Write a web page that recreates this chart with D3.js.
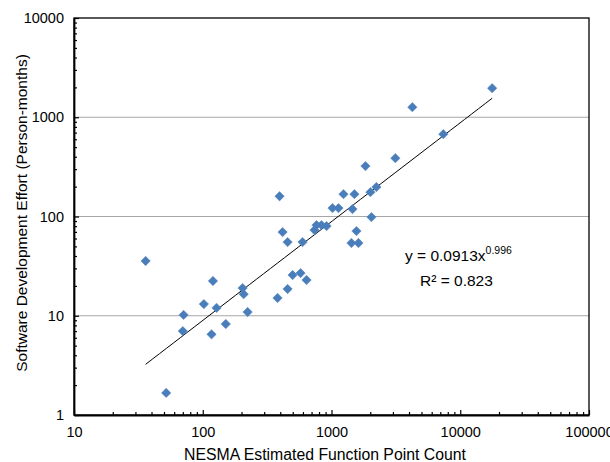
<!DOCTYPE html>
<html>
<head>
<meta charset="utf-8">
<script src="https://cdn.jsdelivr.net/npm/d3@7"></script>
<style>
  body { margin: 0; background: #fff; }
  svg text { font-family: "Liberation Sans", Arial, sans-serif; }
</style>
</head>
<body>
<div id="chart"></div>
<script>
// function point counts (x) and effort in person-months (y)
var fpCount = [36, 52, 71, 70, 102, 120, 128, 117, 151, 204, 208, 223,
    381, 456, 499, 575, 640, 395, 417, 456, 596, 765, 836, 915, 738,
    1018, 1133, 1239, 1507, 1455, 1563, 1429, 1619, 2042, 2006, 2233,
    1835, 3133, 4246, 7386, 17700];
var effort = [35.6, 1.67, 10.2, 7.0, 13.1, 22.4, 12.0, 6.5, 8.25, 19.0, 16.5, 10.9,
    15.1, 18.6, 25.7, 26.9, 22.9, 160, 69.6, 55.2, 55.2, 81.9, 81.9, 80, 73,
    121.5, 121.5, 168, 168, 118.7, 71.3, 54, 54, 98.6, 176, 198,
    322, 387, 1264, 676, 1963];

var xTicks = [10, 100, 1000, 10000, 100000];
var yTicks = [1, 10, 100, 1000, 10000];

// power trend line y = a * x^b
var trendA = 0.0913;
var trendB = 0.996;
var eqText = "y = 0.0913x";
var eqPow = "0.996";
var r2Text = "R² = 0.823";

var width = 610, height = 462;
var plotLeft = 74, plotRight = 589, plotTop = 18, plotBottom = 415;

var svg = d3.select("#chart").append("svg")
    .attr("width", width)
    .attr("height", height);

var x = d3.scaleLog().domain([10, 100000]).range([plotLeft, plotRight]);
var y = d3.scaleLog().domain([1, 10000]).range([plotBottom, plotTop]);

// minor tick values (2..9 of each decade)
function minors(ticks) {
    var m = [];
    for (var i = 0; i < ticks.length - 1; i++) {
        for (var k = 2; k <= 9; k++) m.push(ticks[i] * k);
    }
    return m;
}

// horizontal grid lines
svg.append("g")
    .selectAll("line")
    .data(yTicks.slice(1, -1))
    .enter().append("line")
    .attr("x1", plotLeft).attr("x2", plotRight)
    .attr("y1", d => y(d)).attr("y2", d => y(d))
    .attr("stroke", "#a6a6a6")
    .attr("stroke-width", 1.2);

// plot border
svg.append("rect")
    .attr("x", plotLeft).attr("y", plotTop)
    .attr("width", plotRight - plotLeft).attr("height", plotBottom - plotTop)
    .attr("fill", "none")
    .attr("stroke", "#000")
    .attr("stroke-width", 1.3);

// x axis
svg.append("g")
    .attr("transform", "translate(0," + plotBottom + ")")
    .call(d3.axisBottom(x).tickValues(xTicks).tickFormat(d3.format("d"))
        .tickSizeInner(-5).tickSizeOuter(0).tickPadding(12));
svg.append("g")
    .attr("transform", "translate(0," + plotBottom + ")")
    .call(d3.axisBottom(x).tickValues(minors(xTicks)).tickFormat("")
        .tickSizeInner(-3).tickSizeOuter(0))
    .select(".domain").remove();

// y axis
svg.append("g")
    .attr("transform", "translate(" + plotLeft + ",0)")
    .call(d3.axisLeft(y).tickValues(yTicks).tickFormat(d3.format("d"))
        .tickSizeInner(-5).tickSizeOuter(0).tickPadding(10));
svg.append("g")
    .attr("transform", "translate(" + plotLeft + ",0)")
    .call(d3.axisLeft(y).tickValues(minors(yTicks)).tickFormat("")
        .tickSizeInner(-3).tickSizeOuter(0))
    .select(".domain").remove();

svg.selectAll(".domain").attr("stroke", "#000").attr("stroke-width", 1.8);
svg.selectAll(".tick line").attr("stroke", "#000").attr("stroke-width", 1.2);
svg.selectAll(".tick text")
    .style("font-size", "14.5px")
    .attr("fill", "#000");

// axis titles
svg.append("text")
    .attr("x", 325)
    .attr("y", 460)
    .attr("text-anchor", "middle")
    .style("font-size", "15.8px")
    .text("NESMA Estimated Function Point Count");

svg.append("text")
    .attr("transform", "translate(27,213) rotate(-90)")
    .attr("text-anchor", "middle")
    .style("font-size", "15.5px")
    .text("Software Development Effort (Person-months)");

// trend line over the data range
var xMin = d3.min(fpCount), xMax = d3.max(fpCount);
var trendPts = d3.range(0, 51).map(function (i) {
    var xv = xMin * Math.pow(xMax / xMin, i / 50);
    return [xv, trendA * Math.pow(xv, trendB)];
});
svg.append("path")
    .datum(trendPts)
    .attr("fill", "none")
    .attr("stroke", "#000")
    .attr("stroke-width", 1)
    .attr("d", d3.line().x(d => x(d[0])).y(d => y(d[1])));

// points as diamonds
var diamond = d3.symbol().type(d3.symbolSquare).size(44);
svg.append("g")
    .selectAll("path")
    .data(fpCount)
    .enter().append("path")
    .attr("d", diamond)
    .attr("transform", (d, i) => "translate(" + x(d) + "," + y(effort[i]) + ") rotate(45)")
    .attr("fill", "#4a7ebb")
    .attr("stroke", "#4f81bd")
    .attr("stroke-width", 0.5);

// equation and R squared
var eq = svg.append("text")
    .attr("x", 405)
    .attr("y", 261)
    .style("font-size", "15.5px")
    .text(eqText);
eq.append("tspan")
    .attr("dy", -7)
    .style("font-size", "10.5px")
    .text(eqPow);

svg.append("text")
    .attr("x", 420)
    .attr("y", 286)
    .style("font-size", "15.5px")
    .text(r2Text);
</script>
</body>
</html>
